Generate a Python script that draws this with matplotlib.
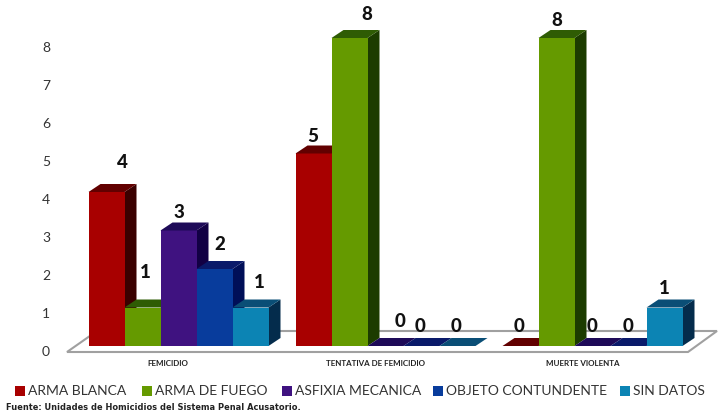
import numpy as np
import matplotlib
matplotlib.use('Agg')
import matplotlib.pyplot as plt

# valores
categorias = ['FEMICIDIO', 'TENTATIVA DE FEMICIDIO', 'MUERTE VIOLENTA']
series = ['ARMA BLANCA', 'ARMA DE FUEGO', 'ASFIXIA MECANICA', 'OBJETO CONTUNDENTE', 'SIN DATOS']
arma_blanca = [4, 5, 0]
arma_fuego = [1, 8, 8]
asfixia = [3, 0, 0]
objeto = [2, 0, 0]
sin_datos = [1, 0, 1]
valores = [arma_blanca, arma_fuego, asfixia, objeto, sin_datos]
y_ticks = [0, 1, 2, 3, 4, 5, 6, 7, 8]
fuente = 'Fuente: Unidades de Homicidios del Sistema Penal Acusatorio.'

# estilos
frente = ['#A80000', '#659A00', '#3F1280', '#083C9C', '#0C84B4']
techo = ['#620000', '#2F5C04', '#1E0A58', '#0A1A6A', '#0A4E76']
lado = ['#3A0000', '#1C3C00', '#120044', '#000F58', '#042C4C']

W, H = 723, 415
PX_GRUPO = 207.0
PX_UNIDAD = 38.5
X0, Y0 = 178.5, 346.0


def px(x, y):
    return (x - X0) / PX_GRUPO, (Y0 - y) / PX_UNIDAD


# ajuste de cada etiqueta respecto al centro y tope de su barra, en pixeles
nudge = [
    [(15.5, 29), (-1, 17.5), (-1, 20)],
    [(3, 35), (17, 24), (0, 17)],
    [(0, 18), (15, 25), (0, 20)],
    [(5, 25), (-1, 20), (0, 20)],
    [(9, 25), (-1, 20), (0, 19)],
]

plt.rcParams['font.family'] = ['Lato', 'DejaVu Sans']
fig = plt.figure(figsize=(W / 100, H / 100), dpi=100)
ax = fig.add_axes([0, 0, 1, 1])
ax.set_xlim(px(0, 0)[0], px(W, 0)[0])
ax.set_ylim(px(0, H)[1], px(0, 0)[1])
ax.axis('off')

# piso del grafico
piso = [px(67, 352), px(97, 331), px(717, 331), px(688, 352)]
ax.fill(*zip(*piso), facecolor='white', edgecolor='#A0A0A0', linewidth=1.5, zorder=1)

ancho = 36 / PX_GRUPO
dx = 12 / PX_GRUPO
dy = 8 / PX_UNIDAD

for g in range(len(categorias)):
    for s in range(len(series)):
        v = valores[s][g]
        c = g + (s - 2) * ancho
        z = 2 + g * 10 + s
        izq, der = c - ancho / 2, c + ancho / 2
        if v > 0:
            ax.fill([der, der + dx, der + dx, der], [0, dy, v + dy, v],
                    color=lado[s], linewidth=0, zorder=z)
            ax.bar(c, v, width=ancho, color=frente[s], linewidth=0, zorder=z)
        ax.fill([izq, der, der + dx, izq + dx], [v, v, v + dy, v + dy],
                color=techo[s], linewidth=0, zorder=z)
        nx, ny = nudge[s][g]
        ax.annotate(str(v), (c, v), xytext=(nx * 0.72, ny * 0.72), textcoords='offset points',
                    ha='center', va='center', fontsize=13.5, fontweight=900,
                    color='#111111', zorder=60)

# eje y
for t in y_ticks:
    ax.text(*px(46, Y0 + 6 - t * 38), str(t), ha='center', va='center',
            fontsize=10, color='#333333')

# categorias
cat_px = [168, 376, 583]
for nombre, x in zip(categorias, cat_px):
    ax.text(*px(x, 363.5), nombre, ha='center', va='center', fontsize=5.8,
            fontweight='bold', color='#222222')

# leyenda
cuadro_x = [15, 142, 282, 433, 620]
for s, nombre in enumerate(series):
    ax.fill(*zip(px(cuadro_x[s], 386), px(cuadro_x[s] + 10, 386),
                 px(cuadro_x[s] + 10, 396), px(cuadro_x[s], 396)),
            color=frente[s], linewidth=0)
    ax.text(*px(cuadro_x[s] + 13, 391), nombre, ha='left', va='center',
            fontsize=10, color='#333333')

ax.text(*px(6, 407), fuente, ha='left', va='center', fontsize=5.95,
        fontweight='bold', color='#222222', family=['DejaVu Sans'])

fig.savefig('out.png', dpi=100)
